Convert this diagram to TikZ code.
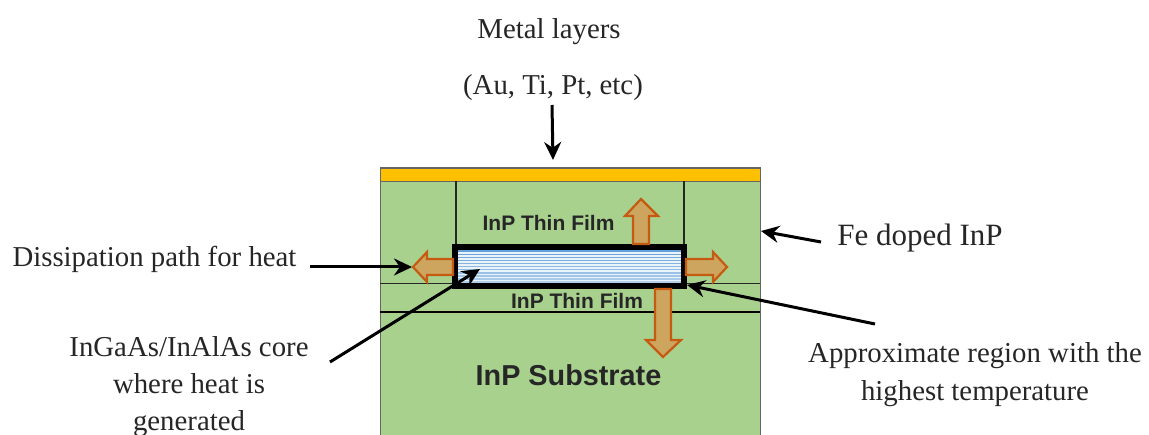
\documentclass[tikz,border=0pt]{standalone}
\usepackage{fontspec}
\setmainfont{Liberation Serif}
\newfontfamily\lsans{Liberation Sans}
\usetikzlibrary{arrows.meta}
\definecolor{grn}{RGB}{169,209,142}
\definecolor{gold}{RGB}{255,192,0}
\definecolor{brn}{RGB}{197,90,17}
\definecolor{tan}{RGB}{205,165,95}
\definecolor{blu}{RGB}{91,155,213}
\tikzset{
  x=1pt,y=-1pt,
  lbl/.style={font=\fontsize{28.8}{32}\selectfont,inner sep=0pt,anchor=base,text=black!85},
  film/.style={font=\lsans\bfseries\fontsize{21}{24}\selectfont,inner sep=0pt,anchor=base,text=black!85},
  thin/.style={draw=black!85,line width=1.2pt},
  block/.style={draw=brn,fill=tan,line width=2.2pt,line join=miter},
  ptr/.style={draw=black,line width=3pt,-{Stealth[length=18pt,width=17pt]}}
}
\begin{document}
\begin{tikzpicture}
\useasboundingbox (0,0) rectangle (1149,435);
\fill[white] (0,0) rectangle (1149,435);
% layers
\path[fill=grn,draw=black!60,line width=1pt] (380,435) -- (380,168) -- (760,168) -- (760,435);
\path[fill=gold,draw=black!60,line width=.8pt] (380,168.5) rectangle (760,181);
\draw[thin] (456,181) -- (456,245);
\draw[thin] (684,181) -- (684,245);
\draw[thin] (380,283.5) -- (760,283.5);
\draw[draw=black,line width=1.8pt] (380,312) -- (760,312);
% core
\fill[blu!12] (455,247) rectangle (684,286);
\foreach \y in {250.5,253.6,256.7,259.8,262.9,266,269.1,272.2,275.3,278.4,281.5}
  \fill[blu!\fpeval{95-(\y-250)*1.5}] (455,\y) rectangle (684,\y+1.4);
\node[draw=black,line width=5.2pt,minimum width=229pt,minimum height=39pt,inner sep=0pt] (core) at (569.5,266.5) {};
% heat arrows
\path[block] (453,259) -- (427,259) -- (427,252) -- (413,267) -- (427,282) -- (427,275) -- (453,275) -- cycle;
\path[block] (686,259) -- (713,259) -- (713,252) -- (727,267) -- (713,282) -- (713,275) -- (686,275) -- cycle;
\path[block] (633,244) -- (633,216) -- (625,216) -- (641,199) -- (658,216) -- (649,216) -- (649,244) -- cycle;
\path[block] (655,289) -- (655,340) -- (646,340) -- (663,357) -- (681,340) -- (671,340) -- (671,289) -- cycle;
% text
\node[film] (film1) at (548.5,231) {InP Thin Film};
\node[film] (film2) at (577,309) {InP Thin Film};
\node[film,font=\lsans\bfseries\fontsize{28.8}{32}\selectfont] (sub) at (568.5,386) {InP Substrate};
\node[lbl] (metal) at (549,39) {Metal layers};
\node[lbl] (alloy) at (553,95) {(Au, Ti, Pt, etc)};
\node[lbl,font=\fontsize{31}{34}\selectfont] (fe) at (920,246) {Fe doped InP};
\node[lbl] (diss) at (154.5,267) {Dissipation path for heat};
\node[lbl] (corelbl1) at (189,357) {InGaAs/InAlAs core};
\node[lbl] (corelbl2) at (189,394) {where heat is};
\node[lbl] (corelbl3) at (189,431) {generated};
\node[lbl] (appr1) at (975,363) {Approximate region with the};
\node[lbl] (appr2) at (975,401) {highest temperature};
% pointers
\coordinate (metalS) at (552,105);
\coordinate (metalE) at (553,160);
\draw[ptr] (metalS) -- (metalE);
\coordinate (feS) at (821,242);
\coordinate (feE) at (761,231);
\draw[ptr] (feS) -- (feE);
\coordinate (dissS) at (310,267);
\coordinate (dissE) at (412,267);
\draw[ptr] (dissS) -- (dissE);
\coordinate (coreS) at (330,362);
\coordinate (coreE) at (480,269);
\draw[ptr] (coreS) -- (coreE);
\coordinate (apprS) at (875,324);
\coordinate (apprE) at (687,285);
\draw[ptr] (apprS) -- (apprE);
\end{tikzpicture}
\end{document}
